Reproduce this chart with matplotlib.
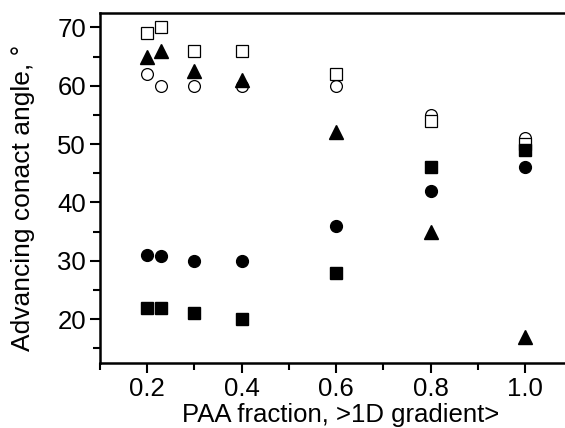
import numpy as np
import matplotlib.pyplot as plt

plt.rcParams['font.family'] = ['Liberation Sans', 'DejaVu Sans']

paa = [0.2, 0.23, 0.3, 0.4, 0.6, 0.8, 1.0]
open_circle = [62, 60, 60, 60, 60, 55, 51]
open_square = [69, 70, 66, 66, 62, 54, 50]
filled_square = [22, 22, 21, 20, 28, 46, 49]
filled_circle = [31, 30.8, 30, 30, 36, 42, 46]
filled_triangle = [65, 66, 62.5, 61, 52, 35, 17]


def main():
	fig = plt.figure(figsize=(5.65, 4.28), dpi=100)
	ax = fig.add_axes([0.177, 0.152, 0.836, 0.818])

	ax.plot(paa, open_circle, linestyle='none', marker='o', markersize=8.5,
		markerfacecolor='white', markeredgecolor='black', markeredgewidth=0.9)
	ax.plot(paa, open_square, linestyle='none', marker='s', markersize=8,
		markerfacecolor='white', markeredgecolor='black', markeredgewidth=0.9)
	ax.plot(paa, filled_square, linestyle='none', marker='s', markersize=8, color='black')
	ax.plot(paa, filled_circle, linestyle='none', marker='o', markersize=8.5, color='black')
	ax.plot(paa, filled_triangle, linestyle='none', marker='^', markersize=10, color='black')

	ax.set_xlim(0.1, 1.1)
	ax.set_ylim(12.5, 72.5)
	ax.set_xticks([0.2, 0.4, 0.6, 0.8, 1.0])
	ax.set_xticks([0.1, 0.3, 0.5, 0.7, 0.9], minor=True)
	ax.set_yticks([20, 30, 40, 50, 60, 70])
	ax.set_yticks([15, 25, 35, 45, 55, 65], minor=True)

	ax.spines['right'].set_visible(False)
	for s in ['left', 'bottom', 'top']:
		ax.spines[s].set_linewidth(1.8)
	ax.tick_params(which='major', direction='out', length=7, width=1.5, labelsize=18.5, pad=3)
	ax.tick_params(which='minor', direction='out', length=5, width=1.5)
	ax.tick_params(top=False, right=False)

	ax.set_xlabel('PAA fraction, >1D gradient>', fontsize=18.5)
	ax.set_ylabel('Advancing conact angle, °', fontsize=19)
	ax.xaxis.set_label_coords(0.51, -0.115)
	ax.yaxis.set_label_coords(-0.138, 0.471)

	fig.savefig('out.png', dpi=100)


if __name__ == '__main__':
	main()
